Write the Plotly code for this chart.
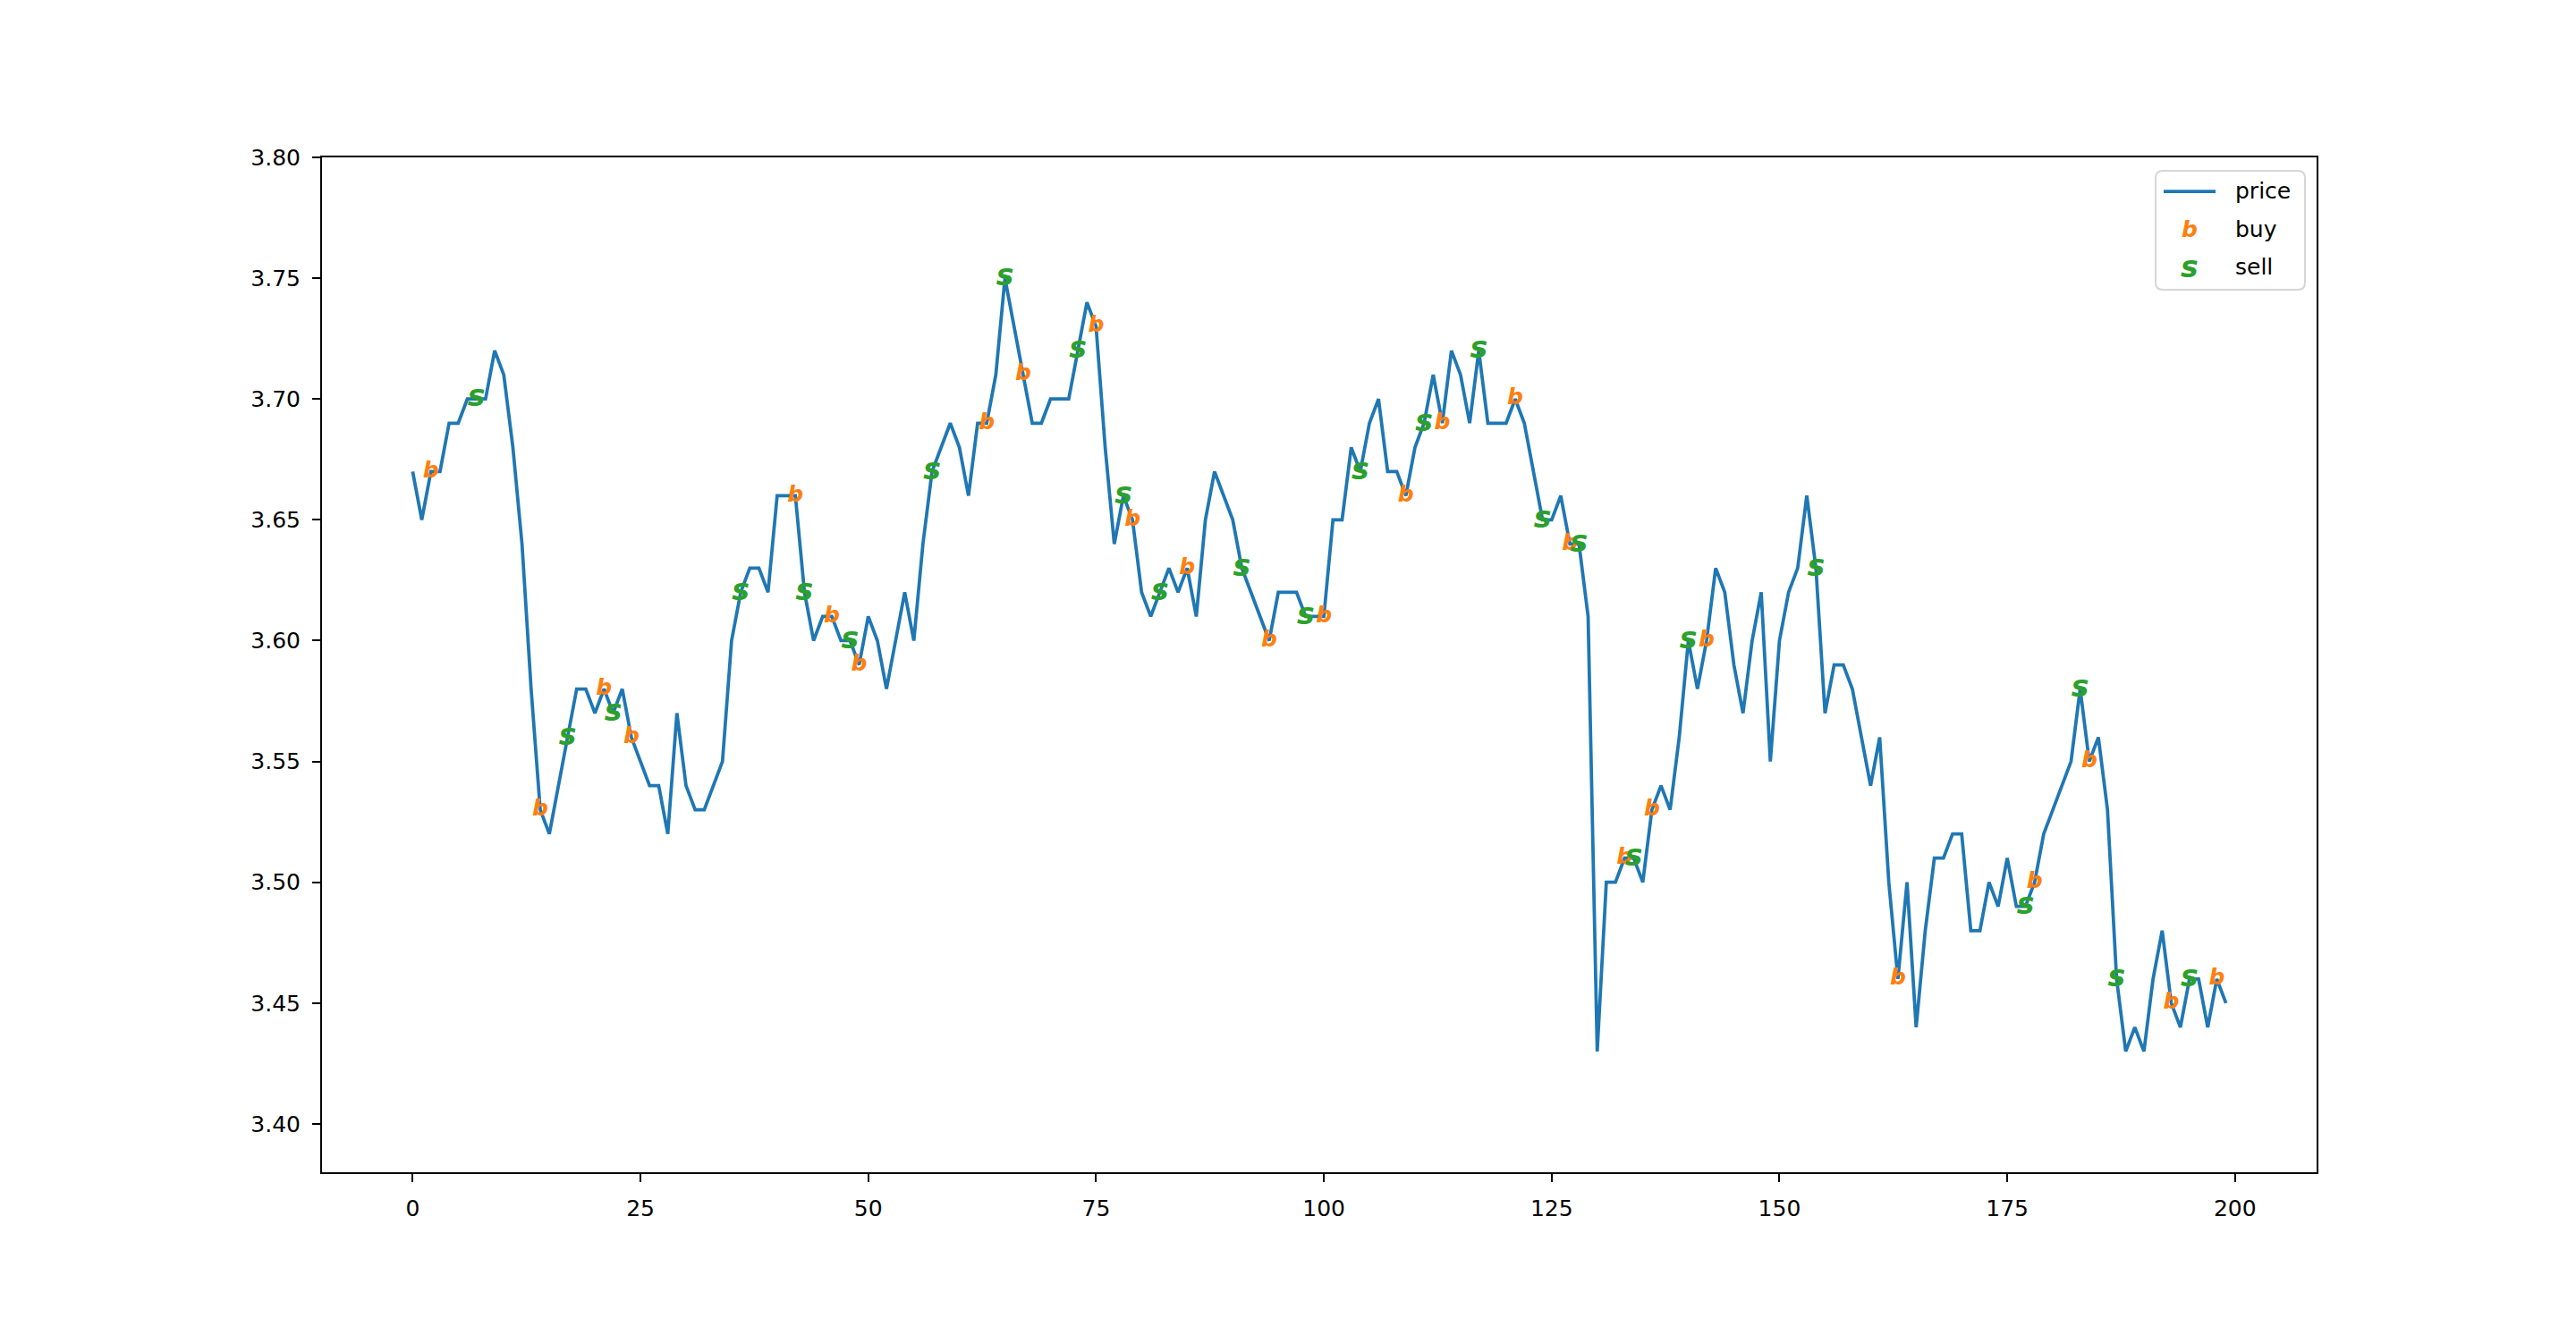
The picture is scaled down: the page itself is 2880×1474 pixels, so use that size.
import plotly.graph_objects as go

price = [
    3.67, 3.65, 3.67, 3.67, 3.69, 3.69, 3.70, 3.70, 3.70, 3.72, 3.71, 3.68, 3.64, 3.58, 3.53, 3.52, 3.54, 3.56, 3.58, 3.58, 3.57, 3.58, 3.57, 3.58, 3.56, 3.55, 3.54,
    3.54, 3.52, 3.57, 3.54, 3.53, 3.53, 3.54, 3.55, 3.60, 3.62, 3.63, 3.63, 3.62, 3.66, 3.66, 3.66, 3.62, 3.60, 3.61, 3.61, 3.60, 3.60, 3.59, 3.61, 3.60, 3.58,
    3.60, 3.62, 3.60, 3.64, 3.67, 3.68, 3.69, 3.68, 3.66, 3.69, 3.69, 3.71, 3.75, 3.73, 3.71, 3.69, 3.69, 3.70, 3.70, 3.70, 3.72, 3.74, 3.73, 3.68, 3.64,
    3.66, 3.65, 3.62, 3.61, 3.62, 3.63, 3.62, 3.63, 3.61, 3.65, 3.67, 3.66, 3.65, 3.63, 3.62, 3.61, 3.60, 3.62, 3.62, 3.62, 3.61, 3.61, 3.61, 3.65, 3.65,
    3.68, 3.67, 3.69, 3.70, 3.67, 3.67, 3.66, 3.68, 3.69, 3.71, 3.69, 3.72, 3.71, 3.69, 3.72, 3.69, 3.69, 3.69, 3.70, 3.69, 3.67, 3.65, 3.65, 3.66, 3.64,
    3.64, 3.61, 3.43, 3.50, 3.50, 3.51, 3.51, 3.50, 3.53, 3.54, 3.53, 3.56, 3.60, 3.58, 3.60, 3.63, 3.62, 3.59, 3.57, 3.60, 3.62, 3.55, 3.60, 3.62, 3.63,
    3.66, 3.63, 3.57, 3.59, 3.59, 3.58, 3.56, 3.54, 3.56, 3.50, 3.46, 3.50, 3.44, 3.48, 3.51, 3.51, 3.52, 3.52, 3.48, 3.48, 3.50, 3.49, 3.51, 3.49, 3.49,
    3.50, 3.52, 3.53, 3.54, 3.55, 3.58, 3.55, 3.56, 3.53, 3.46, 3.43, 3.44, 3.43, 3.46, 3.48, 3.45, 3.44, 3.46, 3.46, 3.44, 3.46, 3.45,
]
steps = list(range(len(price)))

buy_idx = [2, 14, 21, 24, 42, 46, 49, 63, 67, 75, 79, 85, 94, 100, 109, 113, 121, 127, 133, 136, 142, 163, 178, 184, 193, 198]
sell_idx = [7, 17, 22, 36, 43, 48, 57, 65, 73, 78, 82, 91, 98, 104, 111, 117, 124, 128, 134, 140, 154, 177, 183, 187, 195]

x_ticks = [0, 25, 50, 75, 100, 125, 150, 175, 200]
y_ticks = [3.40, 3.45, 3.50, 3.55, 3.60, 3.65, 3.70, 3.75, 3.80]

BLUE = "#1f77b4"
ORANGE = "#ff7f0e"
GREEN = "#2ca02c"
FONT = "DejaVu Sans"
MK_B = dict(family=FONT, size=25, weight="bold", style="italic")
MK_S = dict(family=FONT, size=33, weight="bold", style="italic")

fig = go.Figure()
fig.add_trace(go.Scatter(x=steps, y=price, mode="lines", name="price",
                         line=dict(color=BLUE, width=3.75), showlegend=False))
fig.add_trace(go.Scatter(x=buy_idx, y=[price[i] for i in buy_idx], mode="text",
                         text=["b"] * len(buy_idx), textposition="middle center",
                         textfont=dict(color=ORANGE, **MK_B), name="buy", showlegend=False))
fig.add_trace(go.Scatter(x=sell_idx, y=[price[i] for i in sell_idx], mode="text",
                         text=["s"] * len(sell_idx), textposition="middle center",
                         textfont=dict(color=GREEN, **MK_S), name="sell", showlegend=False))

W, H = 2880, 1474
OFF = 8  # page body offset
L, T = 360 - OFF, 176 - OFF
pw, ph = 2230, 1135
R, B = W - L - pw, H - T - ph

def px(x):
    return (x - OFF - L) / pw

def py(y):
    return (T + ph - (y - OFF)) / ph

# custom legend (matplotlib style)
x0, x1, y0, y1 = px(2410), px(2577), py(324), py(191)
rx, ry = 8 / pw, 8 / ph
path = (f"M {x0+rx},{y0} L {x1-rx},{y0} Q {x1},{y0} {x1},{y0+ry} L {x1},{y1-ry} "
        f"Q {x1},{y1} {x1-rx},{y1} L {x0+rx},{y1} Q {x0},{y1} {x0},{y1-ry} "
        f"L {x0},{y0+ry} Q {x0},{y0} {x0+rx},{y0} Z")
shapes = [
    dict(type="path", path=path, xref="paper", yref="paper",
         line=dict(color="#d6d6d6", width=2), fillcolor="rgba(255,255,255,0.8)", layer="above"),
    dict(type="line", xref="paper", yref="paper", x0=px(2419), x1=px(2477), y0=py(214), y1=py(214),
         line=dict(color=BLUE, width=3.75), layer="above"),
]
annotations = []
for label, yy in [("price", 214), ("buy", 256), ("sell", 298)]:
    annotations.append(dict(text=label, x=px(2497), y=py(yy), xref="paper", yref="paper",
                            xanchor="left", yanchor="middle", showarrow=False,
                            font=dict(family=FONT, size=25, color="black")))
annotations.append(dict(text="b", x=px(2448), y=py(256), xref="paper", yref="paper",
                        xanchor="center", yanchor="middle", showarrow=False,
                        font=dict(color=ORANGE, **MK_B)))
annotations.append(dict(text="s", x=px(2448), y=py(298), xref="paper", yref="paper",
                        xanchor="center", yanchor="middle", showarrow=False,
                        font=dict(color=GREEN, **MK_S)))

axis_common = dict(showgrid=False, zeroline=False, showline=True, mirror=True,
                   linecolor="black", linewidth=2, ticks="outside", ticklen=9,
                   tickwidth=2, tickcolor="black",
                   tickfont=dict(family=FONT, size=25, color="black"))

fig.update_layout(
    width=W, height=H,
    margin=dict(l=L, r=R, t=T, b=B, autoexpand=False),
    paper_bgcolor="white", plot_bgcolor="white",
    font=dict(family=FONT, size=25, color="black"),
    xaxis=dict(range=[-9.95, 208.95], tickvals=x_ticks,
               ticktext=[str(v) for v in x_ticks], ticklabelstandoff=8, **axis_common),
    yaxis=dict(range=[3.38, 3.80], tickvals=y_ticks,
               ticktext=[f"{v:.2f}" for v in y_ticks], ticklabelstandoff=8, **axis_common),
    shapes=shapes, annotations=annotations, showlegend=False,
)

fig.write_html("out.html")
